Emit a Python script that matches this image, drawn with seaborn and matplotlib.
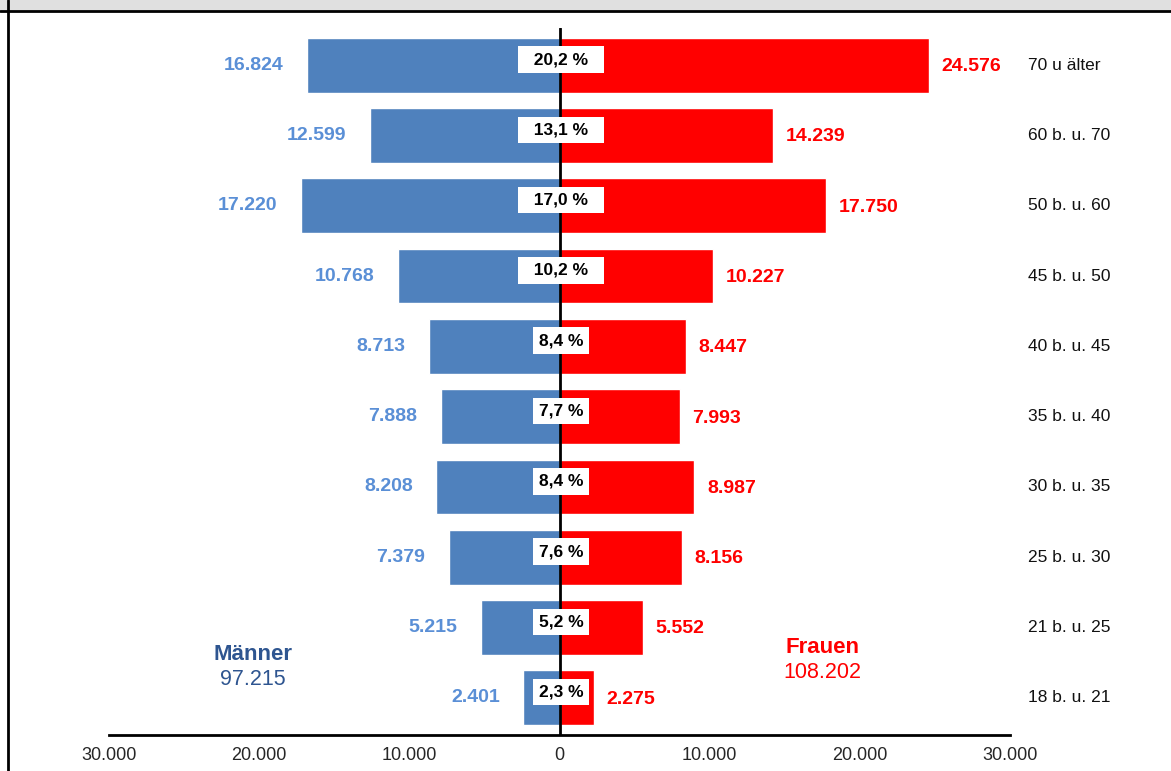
import numpy as np
import pandas as pd
import seaborn as sns
import matplotlib.pyplot as plt
from matplotlib.patches import Rectangle
from matplotlib.lines import Line2D

# ---------------------------------------------------------------
# Data (top to bottom)
# ---------------------------------------------------------------
ages = ['70 u älter', '60 b. u. 70', '50 b. u. 60', '45 b. u. 50', '40 b. u. 45',
        '35 b. u. 40', '30 b. u. 35', '25 b. u. 30', '21 b. u. 25', '18 b. u. 21']
men = [16824, 12599, 17220, 10768, 8713, 7888, 8208, 7379, 5215, 2401]
women = [24576, 14239, 17750, 10227, 8447, 7993, 8987, 8156, 5552, 2275]
share = ['20,2 %', '13,1 %', '17,0 %', '10,2 %', '8,4 %',
         '7,7 %', '8,4 %', '7,6 %', '5,2 %', '2,3 %']
men_total = '97.215'
women_total = '108.202'
ticks = [-30000, -20000, -10000, 0, 10000, 20000, 30000]
tick_labels = ['30.000', '20.000', '10.000', '0', '10.000', '20.000', '30.000']

df = pd.DataFrame({'age': ages, 'men': [-v for v in men], 'women': women})

# ---------------------------------------------------------------
# Plot
# ---------------------------------------------------------------
sns.set_style('white')
plt.rcParams['font.family'] = ['Liberation Sans', 'DejaVu Sans']

fig = plt.figure(figsize=(11.71, 7.71), dpi=100)
ax = fig.add_axes([0.0931, 0.0467, 0.7694, 0.917])

men_color = '#4F81BD'
women_color = '#FF0000'

sns.barplot(data=df, x='men', y='age', order=ages, color=men_color,
            saturation=1, width=0.78, ax=ax)
sns.barplot(data=df, x='women', y='age', order=ages, color=women_color,
            saturation=1, width=0.78, ax=ax)

ax.set_xlim(-30000, 30000)
ax.set_ylim(9.53, -0.53)
ax.axvline(0, color='black', lw=2, zorder=3)

for i, (m, w, s) in enumerate(zip(men, women, share)):
    ax.annotate(f'{m:,}'.replace(',', '.'), xy=(-m, i), xytext=(-17, 0),
                textcoords='offset points', ha='right', va='center',
                fontsize=14, fontweight='bold', color='#5A8FD6')
    ax.annotate(f'{w:,}'.replace(',', '.'), xy=(w, i), xytext=(9, -1),
                textcoords='offset points', ha='left', va='center',
                fontsize=14, fontweight='bold', color=women_color)
    # wider white box for two-digit shares, as in the source
    label = '  ' + s + '  ' if len(s) > 5 else s
    ax.text(100, i - 0.08, label, ha='center', va='center', fontsize=12.5,
            fontweight='bold', color='black', zorder=5,
            bbox=dict(boxstyle='square,pad=0.33', facecolor='white', edgecolor='none'))
    ax.annotate(ages[i], xy=(1.02, i), xycoords=('axes fraction', 'data'),
                ha='left', va='center', fontsize=12.5, color='#111111',
                annotation_clip=False)

ax.text(-20440, 8.39, 'Männer', ha='center', va='center', fontsize=16,
        fontweight='bold', color='#2E5590')
ax.text(-20440, 8.74, men_total, ha='center', va='center', fontsize=15.5,
        color='#2E5590')
ax.text(17510, 8.29, 'Frauen', ha='center', va='center', fontsize=16,
        fontweight='bold', color=women_color)
ax.text(17510, 8.64, women_total, ha='center', va='center', fontsize=15.5,
        color=women_color)

ax.set_xticks(ticks)
ax.set_xticklabels(tick_labels, fontsize=13)
ax.set_yticks([])
ax.set_xlabel('')
ax.set_ylabel('')
for side in ['top', 'right', 'left']:
    ax.spines[side].set_visible(False)
ax.spines['bottom'].set_color('black')
ax.spines['bottom'].set_linewidth(2)
ax.tick_params(axis='x', direction='inout', length=6, width=2, color='black', pad=6)

# frame of the surrounding sheet
fig.add_artist(Rectangle((0, 1 - 11 / 771), 1, 11 / 771, transform=fig.transFigure,
                         facecolor='#E0E0E0', edgecolor='none'))
fig.add_artist(Line2D([0, 1], [1 - 11 / 771] * 2, transform=fig.transFigure,
                      color='black', lw=2))
fig.add_artist(Line2D([8 / 1171] * 2, [0, 1], transform=fig.transFigure,
                      color='black', lw=2))

plt.savefig('out.png', dpi=100)
